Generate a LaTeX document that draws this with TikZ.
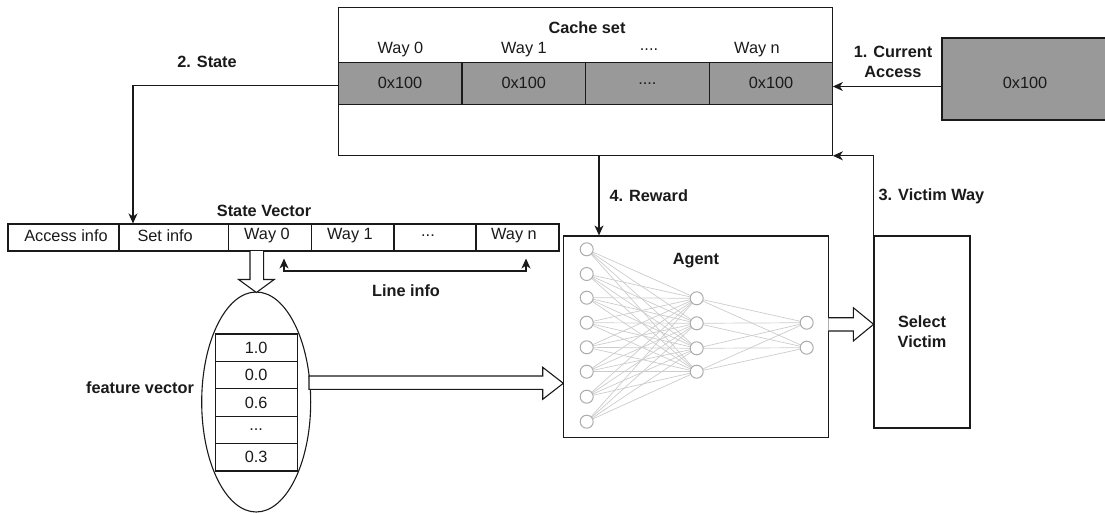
\documentclass[tikz,border=0pt]{standalone}
\usepackage{fontspec}
\setmainfont{Liberation Sans}
\usetikzlibrary{arrows.meta,shapes.geometric}
\definecolor{cellgray}{HTML}{999999}
\definecolor{ink}{HTML}{1A1A1A}
\begin{document}
\begin{tikzpicture}[x=1pt,y=-1pt,
  font=\fontsize{16.3}{20}\selectfont, text=ink,
  box/.style={draw=ink, line width=1.1pt, inner sep=0pt},
  graycell/.style={box, fill=cellgray, minimum width=123.5pt, minimum height=42pt},
  svcell/.style={box, minimum height=27pt},
  fvcell/.style={box, minimum width=82.3pt, minimum height=27.4pt},
  lbl/.style={font=\fontsize{16.3}{20}\selectfont\bfseries, align=center},
  arr/.style={draw=ink, line width=1.1pt, -{Stealth[length=10pt,width=9pt,inset=3pt]}},
  blockarrow/.style={draw=ink, line width=1.1pt, fill=white, line join=miter},
  neuron/.style={circle, draw=black!32, fill=white, line width=1pt, minimum size=13pt, inner sep=0pt},
  synapse/.style={draw=black!20, line width=0.7pt}]
\useasboundingbox (0,0) rectangle (1105,513);

% ---------- cache set ----------
\node[box, minimum width=494pt, minimum height=147.5pt] (cache) at (585.3,81.5) {};
\node[lbl] at (587,28) {Cache set};
\node at (400.5,50) {Way 0};
\node at (524,50) {Way 1};
\node at (649,50) {....};
\node at (757,50) {Way n};
\node[graycell] (c0) at (400.1,83.3) {0x100};
\node[graycell] (c1) at (523.7,83.3) {0x100};
\node[graycell] (c2) at (647.4,83.3) {....};
\node[graycell] (c3) at (771,83.3) {0x100};

% ---------- current access ----------
\node[box, fill=cellgray, minimum width=170pt, minimum height=82pt] (cur) at (1027,79) {};
\node at (1025,83) {0x100};
\coordinate (accessin) at (942,86.5);
\draw[arr] (accessin) -- (accessin -| cache.east);
\node[lbl] at (893,62) {1. Current\\Access};

% ---------- state vector ----------
\node[svcell, minimum width=111pt]   (sacc) at (63.5,237.5) {};
\node[svcell, minimum width=109.6pt] (sset) at (173.8,237.5) {};
\node[svcell, minimum width=82.8pt]  (sw0)  at (270,237.5) {};
\node[svcell, minimum width=82.6pt]  (sw1)  at (352.7,237.5) {};
\node[svcell, minimum width=82pt]    (sdot) at (435,237.5) {};
\node[svcell, minimum width=83pt]    (swn)  at (517.5,237.5) {};
\node at (66,235.5) {Access info};
\node[anchor=west] at (134,235.5) {Set info};
\node at (267,235.5) {Way 0};
\node at (350,235.5) {Way 1};
\node at (428,235.5) {...};
\node at (514,235.5) {Way n};
\node[lbl] at (264,210.5) {State Vector};

% state read out of the cache set
\coordinate (statein) at (133,0);
\coordinate (stateout) at (338,85.5);
\draw[arr] (stateout) -| (statein |- sset.north);
\node[lbl] at (207,62) {2. State};

% line info span
\coordinate (li1) at (284,258.5);
\coordinate (li2) at (526,258.5);
\draw[draw=ink, line width=1.1pt, {Stealth[length=10pt,width=9pt,inset=3pt]}-{Stealth[length=10pt,width=9pt,inset=3pt]}]
  (li1) -- ++(0,12.5) -| (li2);
\node[lbl] at (406,290.5) {Line info};

% ---------- feature vector ----------
\node[draw=ink, line width=1.1pt, ellipse, minimum width=109pt, minimum height=220pt, inner sep=0pt] (fv) at (256.2,402) {};
\node[fvcell] (f1) at (256.2,347.7) {1.0};
\node[fvcell] (f2) at (256.2,375.1) {0.0};
\node[fvcell] (f3) at (256.2,402.5) {0.6};
\node[fvcell] (f4) at (256.2,429.9) {...};
\node[fvcell] (f5) at (256.2,457.3) {0.3};
\node[lbl] at (140,388) {feature vector};

% Way 0 expanded into the feature vector
\draw[blockarrow] (250,251) -- (250,279.5) -- (238.6,279.5) -- (256.4,292.5)
  -- (274.2,279.5) -- (263.6,279.5) -- (263.6,251);

% ---------- agent ----------
\node[box, minimum width=265pt, minimum height=201.3pt] (agent) at (695.8,336.6) {};
\node[lbl] at (696,261) {Agent};

\foreach \y [count=\i] in {249.3,274,297.7,322.7,347.3,371.7,396.7,421.7}
  \coordinate (a\i) at (586.7,\y);
\foreach \y [count=\i] in {298.3,323.3,348.3,371.7}
  \coordinate (b\i) at (696.7,\y);
\foreach \y [count=\i] in {322.7,347.7}
  \coordinate (o\i) at (806.7,\y);
\foreach \i in {1,...,8} \foreach \j in {1,...,4} \draw[synapse] (a\i) -- (b\j);
\foreach \i in {1,...,4} \foreach \j in {1,2} \draw[synapse] (b\i) -- (o\j);
\foreach \i in {1,...,8} \node[neuron] (na\i) at (a\i) {};
\foreach \i in {1,...,4} \node[neuron] (nb\i) at (b\i) {};
\foreach \i in {1,2} \node[neuron] (no\i) at (o\i) {};

% feature vector fed into the agent
\draw[blockarrow] (309,376) -- (542.7,376) -- (542.7,367.3) -- (563.3,383.3)
  -- (542.7,399.3) -- (542.7,389.3) -- (309,389.3) -- cycle;

% ---------- select victim ----------
\node[box, minimum width=96pt, minimum height=192pt, lbl] (sel) at (922,332) {Select\\Victim};
\draw[blockarrow] (828.3,317.7) -- (853.3,317.7) -- (853.3,307.7) -- (873.6,324.3)
  -- (853.3,341) -- (853.3,331) -- (828.3,331);

% victim way written back
\draw[arr] (sel.north west) |- (cache.south east);
\node[lbl, anchor=west] at (875,196) {3. Victim Way};

% reward
\coordinate (rw) at (599,0);
\draw[arr] (rw |- cache.south) -- (rw |- agent.north);
\node[lbl, anchor=west] at (606,196) {4. Reward};
\end{tikzpicture}
\end{document}
